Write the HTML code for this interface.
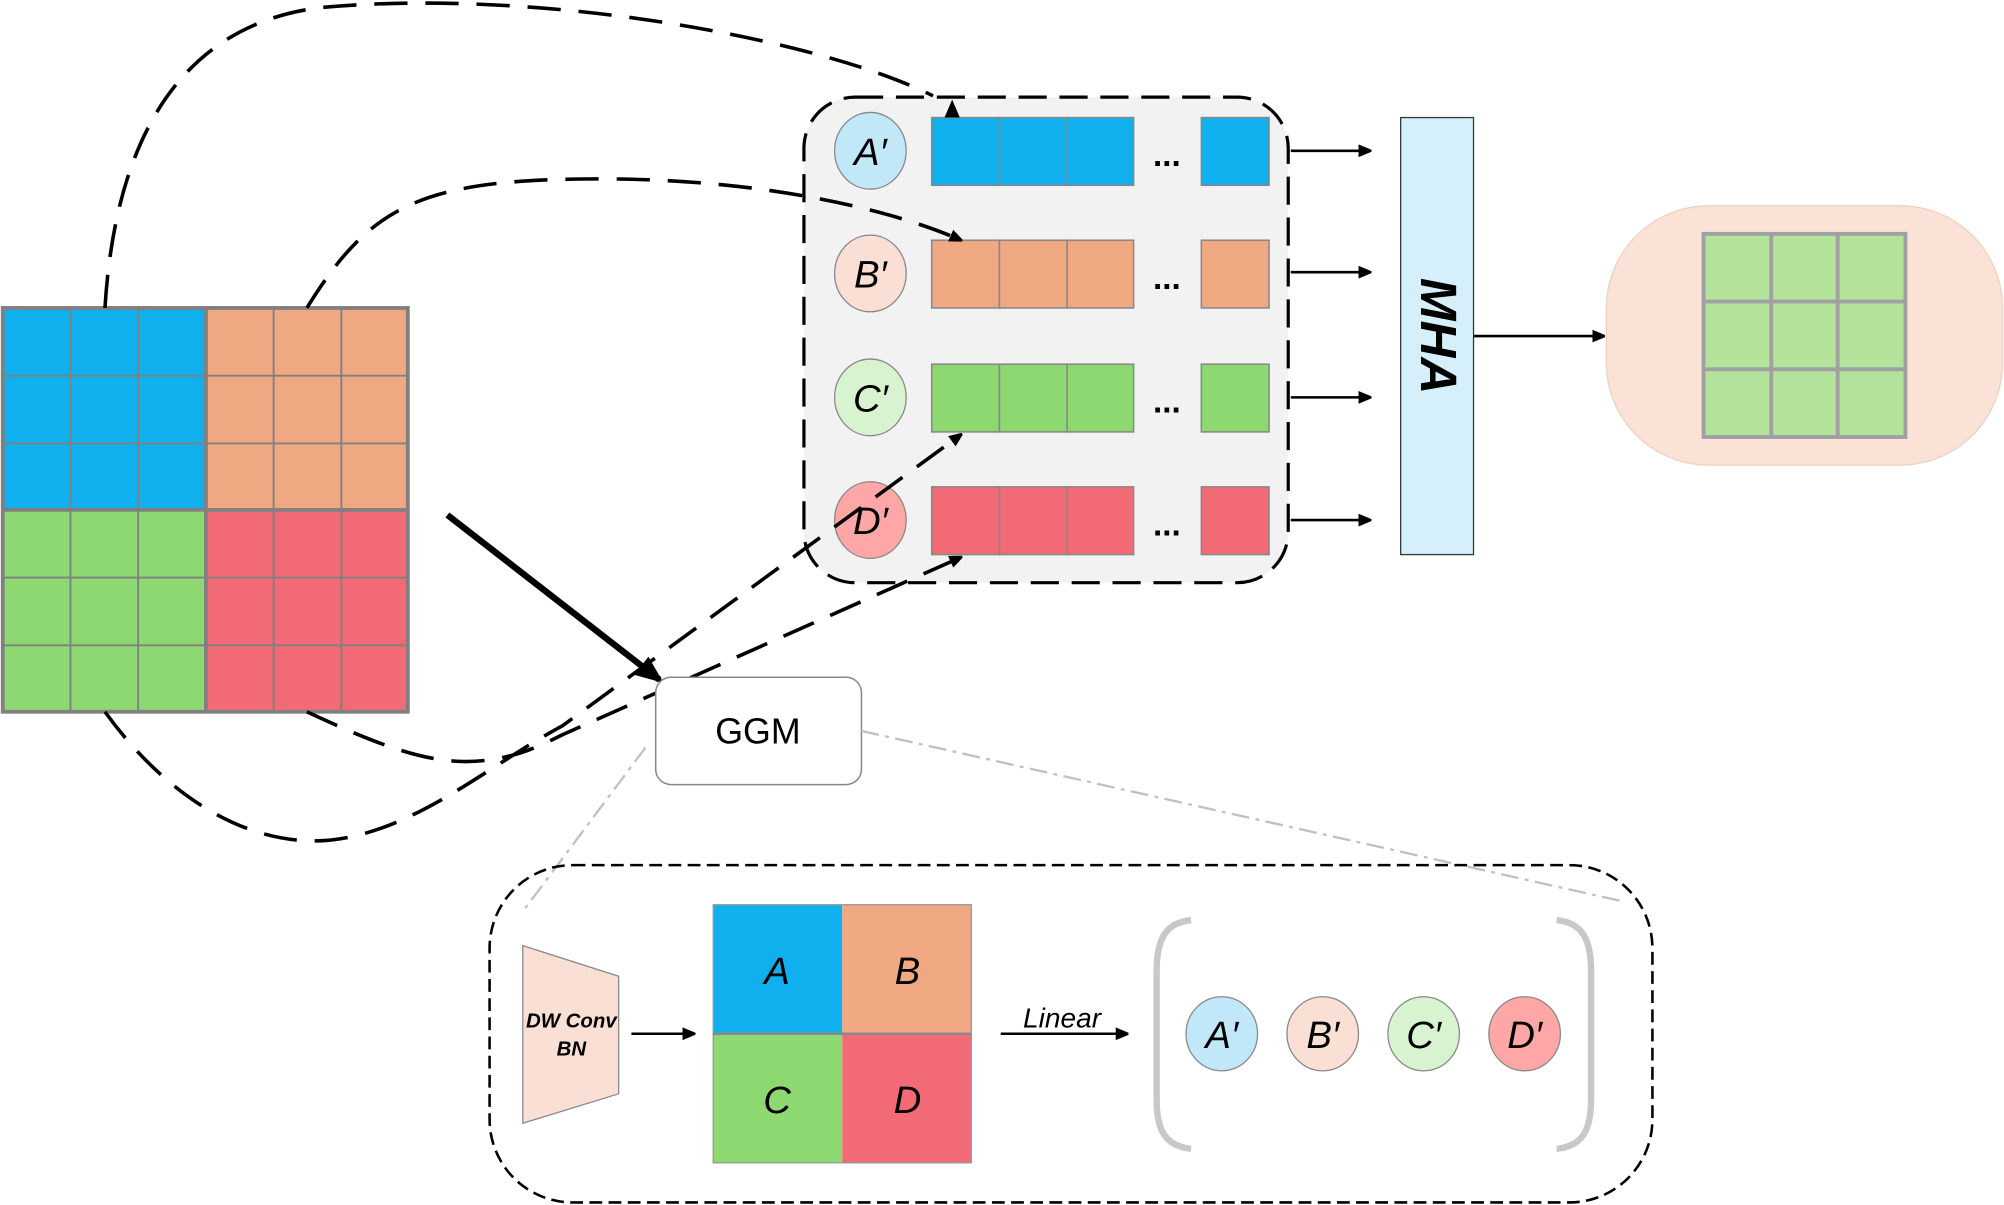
<!DOCTYPE html>
<html><head><meta charset="utf-8"><style>html,body{margin:0;padding:0;background:#fff}svg{display:block}</style></head>
<body>
<svg width="2004" height="1205" viewBox="0 0 1568 943" xmlns="http://www.w3.org/2000/svg" font-family="Liberation Sans, DejaVu Sans, sans-serif">
<defs>
<marker id="ah" markerWidth="10" markerHeight="10" refX="9" refY="5" orient="auto" markerUnits="userSpaceOnUse"><path d="M0,0 L12,5 L0,10 z" fill="#000"/></marker>
<marker id="ahb" markerWidth="22" markerHeight="18" refX="18" refY="9" orient="auto" markerUnits="userSpaceOnUse"><path d="M0,0 L22,9 L0,18 z" fill="#000"/></marker>
</defs>
<rect x="2" y="241" width="159" height="158" fill="#10b0ee"/>
<rect x="161" y="241" width="158" height="158" fill="#f0a882"/>
<rect x="2" y="399" width="159" height="158" fill="#8ed872"/>
<rect x="161" y="399" width="158" height="158" fill="#f26a76"/>
<g stroke="#808080" stroke-width="1.5">
<line x1="55" y1="241" x2="55" y2="557"/><line x1="108" y1="241" x2="108" y2="557"/>
<line x1="214" y1="241" x2="214" y2="557"/><line x1="267" y1="241" x2="267" y2="557"/>
<line x1="2" y1="294" x2="319" y2="294"/><line x1="2" y1="347" x2="319" y2="347"/>
<line x1="2" y1="452" x2="319" y2="452"/><line x1="2" y1="505" x2="319" y2="505"/>
</g>
<g stroke="#808080" stroke-width="3" fill="none">
<rect x="2" y="241" width="317" height="316"/>
<line x1="161" y1="241" x2="161" y2="557"/><line x1="2" y1="399" x2="319" y2="399"/>
</g>
<rect x="629" y="76" width="379" height="380" rx="40" fill="#f2f2f2" stroke="#000" stroke-width="2.5" stroke-dasharray="22,10"/>
<g stroke="#888" stroke-width="1.2">
<g fill="#10b0ee"><rect x="729" y="92" width="53" height="53"/><rect x="782" y="92" width="53" height="53"/><rect x="835" y="92" width="52" height="53"/><rect x="940" y="92" width="53" height="53"/></g>
<g fill="#f0a882"><rect x="729" y="188" width="53" height="53"/><rect x="782" y="188" width="53" height="53"/><rect x="835" y="188" width="52" height="53"/><rect x="940" y="188" width="53" height="53"/></g>
<g fill="#8ed872"><rect x="729" y="285" width="53" height="53"/><rect x="782" y="285" width="53" height="53"/><rect x="835" y="285" width="52" height="53"/><rect x="940" y="285" width="53" height="53"/></g>
<g fill="#f26a76"><rect x="729" y="381" width="53" height="53"/><rect x="782" y="381" width="53" height="53"/><rect x="835" y="381" width="52" height="53"/><rect x="940" y="381" width="53" height="53"/></g>
</g>
<g font-size="26" font-weight="bold" text-anchor="middle">
<text x="913" y="130">...</text><text x="913" y="226">...</text><text x="913" y="323">...</text><text x="913" y="419">...</text>
</g>
<g stroke="#888" stroke-width="1">
<ellipse cx="681" cy="118" rx="28" ry="30" fill="#c0e8f8"/>
<ellipse cx="681" cy="214" rx="28" ry="30" fill="#fae0d4"/>
<ellipse cx="681" cy="311" rx="28" ry="30" fill="#d8f3d0"/>
<ellipse cx="681" cy="407" rx="28" ry="30" fill="#ffa6a6"/>
</g>
<g font-size="30" font-style="italic" text-anchor="middle">
<text x="681" y="129">A′</text><text x="681" y="225">B′</text><text x="681" y="322">C′</text><text x="681" y="418">D′</text>
</g>
<g stroke="#000" stroke-width="2" marker-end="url(#ah)">
<line x1="1010" y1="118" x2="1072" y2="118"/><line x1="1010" y1="213" x2="1072" y2="213"/>
<line x1="1010" y1="311" x2="1072" y2="311"/><line x1="1010" y1="407" x2="1072" y2="407"/>
<line x1="1153" y1="263" x2="1255" y2="263"/>
</g>
<rect x="1096" y="92" width="57" height="342" fill="#d5f0fa" stroke="#333" stroke-width="1"/>
<text transform="translate(1112,263) rotate(90)" font-size="40" font-weight="bold" font-style="italic" text-anchor="middle">MHA</text>
<rect x="1257" y="161" width="310" height="203" rx="80" fill="#fae2d6" stroke="#f0d0c0" stroke-width="1"/>
<rect x="1333" y="183" width="158" height="159" fill="#b3e29b"/>
<g stroke="#a0a0a0" stroke-width="3" fill="none">
<rect x="1333" y="183" width="158" height="159"/>
<line x1="1386" y1="183" x2="1386" y2="342"/><line x1="1438" y1="183" x2="1438" y2="342"/>
<line x1="1333" y1="236" x2="1491" y2="236"/><line x1="1333" y1="289" x2="1491" y2="289"/>
</g>
<g fill="none" stroke="#000" stroke-width="2.8" stroke-dasharray="26,14">
<path d="M82,241 C90,110 140,20 250,6 C420,-10 640,30 730,75"/>
<path d="M240,241 C290,160 330,140 470,140 C600,140 700,165 752,188" marker-end="url(#ah)"/>
<path d="M82,557 C120,610 180,660 250,658 C320,655 380,600 440,568 L752,340" marker-end="url(#ah)"/>
<path d="M240,557 C300,585 340,600 380,595 C400,592 410,590 440,575 L752,436" marker-end="url(#ah)"/>
</g>
<path d="M745,78 L739,92 L751,92 z" fill="#000"/>
<line x1="350" y1="403" x2="516" y2="532" stroke="#000" stroke-width="5" marker-end="url(#ahb)"/>
<rect x="513" y="530" width="161" height="84" rx="12" fill="#fff" stroke="#888" stroke-width="1.2"/>
<text x="593" y="582" font-size="28" text-anchor="middle">GGM</text>
<g stroke="#c0c0c0" stroke-width="1.8" stroke-dasharray="14,5,3,5" fill="none">
<line x1="505" y1="585" x2="410" y2="712"/>
<line x1="674" y1="572" x2="1268" y2="705"/>
</g>
<rect x="383" y="677" width="910" height="264" rx="65" fill="none" stroke="#000" stroke-width="2" stroke-dasharray="10,5"/>
<polygon points="409,740 484,764 484,856 409,879" fill="#fae0d4" stroke="#888" stroke-width="1"/>
<g font-size="16" font-weight="bold" font-style="italic" text-anchor="middle">
<text x="447" y="804">DW Conv</text><text x="447" y="826">BN</text>
</g>
<line x1="494" y1="809" x2="543" y2="809" stroke="#000" stroke-width="2" marker-end="url(#ah)"/>
<rect x="558" y="708" width="101" height="101" fill="#10b0ee"/>
<rect x="659" y="708" width="101" height="101" fill="#f0a882"/>
<rect x="558" y="809" width="101" height="101" fill="#8ed872"/>
<rect x="659" y="809" width="101" height="101" fill="#f26a76"/>
<rect x="558" y="708" width="202" height="202" fill="none" stroke="#999" stroke-width="1"/>
<line x1="558" y1="809" x2="760" y2="809" stroke="#888" stroke-width="2"/>
<g font-size="30" font-style="italic" text-anchor="middle">
<text x="608" y="770">A</text><text x="710" y="770">B</text><text x="608" y="871">C</text><text x="710" y="871">D</text>
</g>
<text x="831" y="804" font-size="22" font-style="italic" text-anchor="middle">Linear</text>
<line x1="783" y1="809" x2="882" y2="809" stroke="#000" stroke-width="2" marker-end="url(#ah)"/>
<g fill="none" stroke="#c8c8c8" stroke-width="5">
<path d="M932,720 C912,722 905,735 905,760 L905,860 C905,885 912,897 932,899"/>
<path d="M1218,720 C1238,722 1245,735 1245,760 L1245,860 C1245,885 1238,897 1218,899"/>
</g>
<g stroke="#888" stroke-width="1">
<ellipse cx="956" cy="809" rx="28" ry="29" fill="#c0e8f8"/>
<ellipse cx="1035" cy="809" rx="28" ry="29" fill="#fae0d4"/>
<ellipse cx="1114" cy="809" rx="28" ry="29" fill="#d8f3d0"/>
<ellipse cx="1193" cy="809" rx="28" ry="29" fill="#ffa6a6"/>
</g>
<g font-size="30" font-style="italic" text-anchor="middle">
<text x="956" y="820">A′</text><text x="1035" y="820">B′</text><text x="1114" y="820">C′</text><text x="1193" y="820">D′</text>
</g>
</svg>
</body></html>
